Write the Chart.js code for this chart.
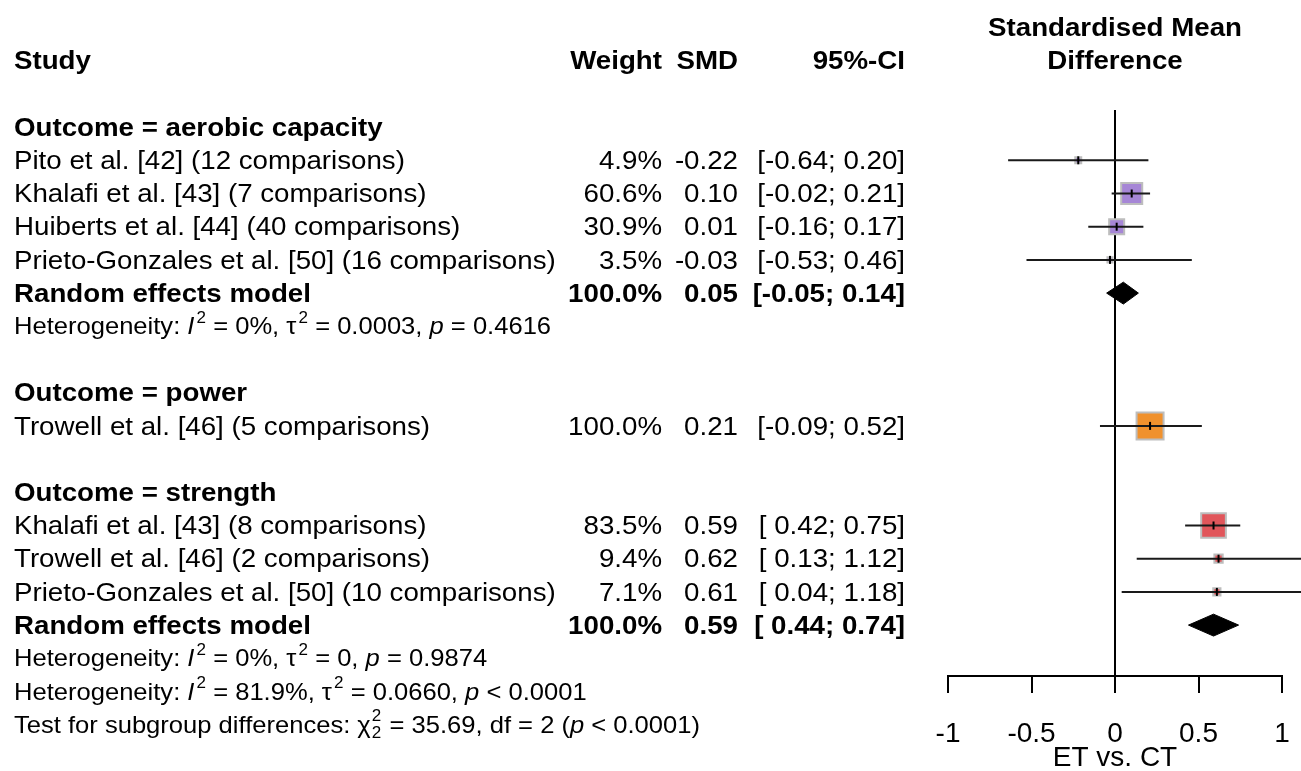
<!DOCTYPE html>
<html>
<head>
<meta charset="utf-8">
<script src="https://cdn.jsdelivr.net/npm/chart.js@4.4.1/dist/chart.umd.min.js"></script>
<style>
  html, body { margin: 0; padding: 0; background: #fff; }
  canvas { display: block; }
</style>
</head>
<body>
<canvas id="forest" width="1301" height="771"></canvas>
<script>
// single studies
const studyLabels = [
    "Pito et al. [42] (12 comparisons)",
    "Khalafi et al. [43] (7 comparisons)",
    "Huiberts et al. [44] (40 comparisons)",
    "Prieto-Gonzales et al. [50] (16 comparisons)",
    "Trowell et al. [46] (5 comparisons)",
    "Khalafi et al. [43] (8 comparisons)",
    "Trowell et al. [46] (2 comparisons)",
    "Prieto-Gonzales et al. [50] (10 comparisons)"
];
const studyRows = [1, 2, 3, 4, 9, 12, 13, 14];
const studyWeights = [4.9, 60.6, 30.9, 3.5, 100.0, 83.5, 9.4, 7.1];
const studySmd = [-0.22, 0.10, 0.01, -0.03, 0.21, 0.59, 0.62, 0.61];
const studyLow = [-0.64, -0.02, -0.16, -0.53, -0.09, 0.42, 0.13, 0.04];
const studyHigh = [0.20, 0.21, 0.17, 0.46, 0.52, 0.75, 1.12, 1.18];
const studyGroup = [0, 0, 0, 0, 1, 2, 2, 2];

// subgroups
const groupLabels = ["Outcome = aerobic capacity", "Outcome = power", "Outcome = strength"];
const groupRows = [0, 8, 11];
const groupColors = ["#a686d6", "#f0912d", "#e1565b"];

// pooled (random effects)
const pooledRows = [5, 15];
const pooledWeights = [100.0, 100.0];
const pooledSmd = [0.05, 0.59];
const pooledLow = [-0.05, 0.44];
const pooledHigh = [0.14, 0.74];

const xTicks = [-1, -0.5, 0, 0.5, 1];

// stats lines: [text, style]
const statRows = [6, 16, 17, 18];
const statTexts = [
    [["Heterogeneity: "], ["I", "i"], ["2", "sup"], [" = 0%, \u03c4"], ["2", "sup"], [" = 0.0003, "], ["p", "i"], [" = 0.4616"]],
    [["Heterogeneity: "], ["I", "i"], ["2", "sup"], [" = 0%, \u03c4"], ["2", "sup"], [" = 0, "], ["p", "i"], [" = 0.9874"]],
    [["Heterogeneity: "], ["I", "i"], ["2", "sup"], [" = 81.9%, \u03c4"], ["2", "sup"], [" = 0.0660, "], ["p", "i"], [" < 0.0001"]],
    [["Test for subgroup differences: \u03c7"], ["2", "both"], [" = 35.69, df = 2 ("], ["p", "i"], [" < 0.0001)"]]
];

const FONT = "'Liberation Sans', Arial, sans-serif";
const MAIN = 26;
const SMALL = 24;
const SX = 1.065;   // text in the original is a bit wider than Arial
const ROW_H = 33.2;
const colStudy = 14, colWeight = 662, colSmd = 738, colCi = 905;

function ciText(lo, hi) {
    return "[" + (lo < 0 ? "" : " ") + lo.toFixed(2) + "; " + hi.toFixed(2) + "]";
}

function put(ctx, txt, x, y, align, bold, size) {
    ctx.save();
    ctx.font = (bold ? "bold " : "") + (size || MAIN) + "px " + FONT;
    ctx.textAlign = align;
    ctx.translate(x, y + 1.5);
    ctx.scale(SX, 1);
    ctx.fillText(txt, 0, 0);
    ctx.restore();
}

function drawRich(ctx, x, y, parts, size) {
    ctx.save();
    ctx.translate(x, y + 1.5);
    ctx.scale(SX, 1);
    ctx.textAlign = "left";
    let cx = 0;
    parts.forEach(([t, st]) => {
        let small = st === "sup" || st === "both";
        ctx.font = (st === "i" ? "italic " : "") + (small ? Math.round(size * 0.68) : size) + "px " + FONT;
        if (st === "sup") {
            ctx.fillText(t, cx + 2, -size * 0.4);
        } else if (st === "both") {
            ctx.fillText(t, cx + 1, -size * 0.4);
            ctx.fillText(t, cx + 1, size * 0.32);
        } else {
            ctx.fillText(t, cx, 0);
        }
        cx += ctx.measureText(t).width + (small ? 2 : 0);
    });
    ctx.restore();
}

const tablePlugin = {
    id: "forestTable",
    afterDraw(chart) {
        const ctx = chart.ctx;
        const yScale = chart.scales.y;
        const rowY = r => yScale.getPixelForValue(r);
        const mid = (chart.chartArea.left + chart.chartArea.right) / 2;
        ctx.save();
        ctx.fillStyle = "#000";
        ctx.textBaseline = "middle";

        // header
        put(ctx, "Study", colStudy, rowY(-2), "left", true);
        put(ctx, "Weight", colWeight, rowY(-2), "right", true);
        put(ctx, "SMD", colSmd, rowY(-2), "right", true);
        put(ctx, "95%-CI", colCi, rowY(-2), "right", true);
        put(ctx, "Standardised Mean", mid, rowY(-3), "center", true);
        put(ctx, "Difference", mid, rowY(-2), "center", true);

        groupLabels.forEach((g, i) => put(ctx, g, colStudy, rowY(groupRows[i]), "left", true));

        studyLabels.forEach((s, i) => {
            let yy = rowY(studyRows[i]);
            put(ctx, s, colStudy, yy, "left", false);
            put(ctx, studyWeights[i].toFixed(1) + "%", colWeight, yy, "right", false);
            put(ctx, studySmd[i].toFixed(2), colSmd, yy, "right", false);
            put(ctx, ciText(studyLow[i], studyHigh[i]), colCi, yy, "right", false);
        });

        pooledRows.forEach((r, i) => {
            let yy = rowY(r);
            put(ctx, "Random effects model", colStudy, yy, "left", true);
            put(ctx, pooledWeights[i].toFixed(1) + "%", colWeight, yy, "right", true);
            put(ctx, pooledSmd[i].toFixed(2), colSmd, yy, "right", true);
            put(ctx, ciText(pooledLow[i], pooledHigh[i]), colCi, yy, "right", true);
        });

        statTexts.forEach((parts, i) => drawRich(ctx, colStudy, rowY(statRows[i]), parts, SMALL));
        ctx.restore();
    }
};

window.addEventListener("load", () => {
    // CI whiskers as one broken line
    let ciData = [];
    studyRows.forEach((r, i) => {
        ciData.push({ x: studyLow[i], y: r });
        ciData.push({ x: studyHigh[i], y: r });
        ciData.push({ x: null, y: null });
    });

    let boxData = studyRows.map((r, i) => ({ x: studySmd[i], y: r }));

    // box side grows with sqrt of weight (area ~ weight)
    let boxRadius = studyWeights.map(w => 27 * Math.sqrt(w / 100) / Math.SQRT2);
    let boxColors = studyGroup.map(g => groupColors[g]);

    const datasets = [
        {
            label: "ci",
            data: ciData,
            showLine: true,
            borderColor: "#1a1a1a",
            borderWidth: 2,
            pointRadius: 0,
            spanGaps: false,
            clip: false,
            order: 0
        },
        {
            label: "boxes",
            data: boxData,
            pointStyle: "rect",
            pointRadius: boxRadius,
            pointBackgroundColor: boxColors,
            pointBorderColor: "#bdbdbd",
            pointBorderWidth: 2,
            order: 2
        },
        {
            label: "estimates",
            data: boxData,
            pointStyle: "line",
            pointRotation: 90,
            pointRadius: 4,
            pointBorderColor: "#000",
            pointBorderWidth: 2,
            order: -1
        }
    ];

    // pooled diamonds
    pooledRows.forEach((r, i) => {
        datasets.push({
            label: "pooled" + i,
            data: [
                { x: pooledLow[i], y: r },
                { x: pooledSmd[i], y: r - 0.33 },
                { x: pooledHigh[i], y: r },
                { x: pooledSmd[i], y: r + 0.33 },
                { x: pooledLow[i], y: r }
            ],
            showLine: true,
            fill: "shape",
            backgroundColor: "#000",
            borderColor: "#000",
            borderWidth: 1,
            pointRadius: 0,
            order: 1
        });
    });

    const config = {
        type: "scatter",
        data: { datasets: datasets },
        options: {
            responsive: false,
            animation: false,
            events: [],
            layout: {
                autoPadding: false,
                padding: { left: 948, right: 19, top: 110, bottom: 0 }
            },
            elements: { line: { tension: 0 } },
            scales: {
                x: {
                    type: "linear",
                    min: -1,
                    max: 1,
                    afterFit: (scale) => {
                        scale.height = 95;
                        scale.paddingLeft = 0;
                        scale.paddingRight = 0;
                    },
                    afterBuildTicks: (scale) => { scale.ticks = xTicks.map(v => ({ value: v })); },
                    ticks: {
                        color: "#000",
                        padding: 24,
                        callback: (v) => String(v),
                        font: { family: FONT, size: 28 }
                    },
                    grid: {
                        color: (c) => (c.tick && c.tick.value === 0 ? "#000" : "rgba(0,0,0,0)"),
                        lineWidth: 2,
                        tickColor: "#000",
                        tickWidth: 2,
                        tickLength: 17
                    },
                    border: { display: true, color: "#000", width: 2 },
                    title: {
                        display: true,
                        text: "ET vs. CT",
                        color: "#000",
                        padding: { top: 0, bottom: 2 },
                        font: { family: FONT, size: 28, lineHeight: 0.75 }
                    }
                },
                y: {
                    type: "linear",
                    display: false,
                    reverse: true,
                    min: (110 - 127.1) / ROW_H,
                    max: (676 - 127.1) / ROW_H
                }
            },
            plugins: {
                legend: { display: false },
                tooltip: { enabled: false }
            }
        },
        plugins: [tablePlugin]
    };

    new Chart(document.getElementById("forest").getContext("2d"), config);
});
</script>
</body>
</html>
